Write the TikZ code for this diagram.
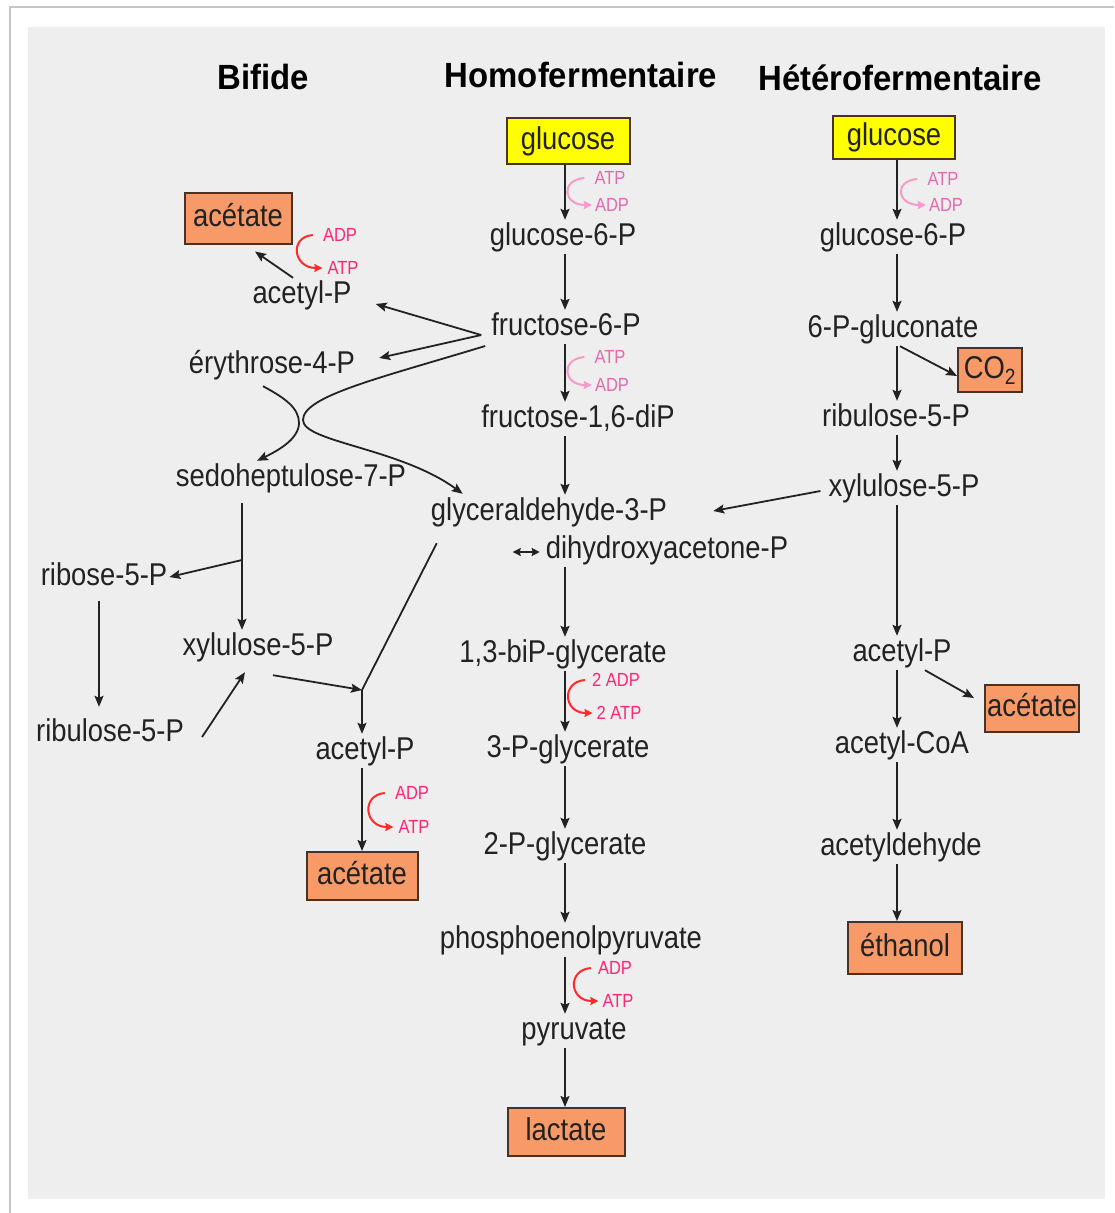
\documentclass[tikz,border=0pt]{standalone}
\usepackage{fontspec}
\setmainfont{Liberation Sans}
\newfontfamily\narrowsans{Liberation Sans}[FakeStretch=0.87]
\newfontfamily\headsans{Liberation Sans}[FakeStretch=0.94]
\usetikzlibrary{arrows.meta}
\definecolor{panel}{HTML}{EEEEEE}
\definecolor{boxorange}{HTML}{F89A68}
\definecolor{boxedge}{HTML}{4A3326}
\definecolor{glcyellow}{HTML}{FFFF00}
\definecolor{atplight}{HTML}{E36AAE}
\definecolor{curvelight}{HTML}{F59ACB}
\definecolor{atpred}{HTML}{FF2577}
\definecolor{curvered}{HTML}{FF2B2B}
\definecolor{ink}{HTML}{222222}
\begin{document}
\begin{tikzpicture}[
      x=1pt, y=-1pt,
      met/.style={font=\narrowsans\fontsize{31.5}{34}\selectfont, text=ink, inner sep=2pt,
        text height=23pt, text depth=7pt},
      prod/.style={met, draw=boxedge, line width=2pt, fill=boxorange, inner sep=0pt,
        minimum height=48pt},
      sub/.style={prod, fill=glcyellow},
      title/.style={font=\headsans\fontsize{35}{38}\selectfont\bfseries},
      nrg/.style={font=\narrowsans\fontsize{19}{20}\selectfont, inner sep=1pt},
      arr/.style={draw=ink, line width=1.8pt, -{Stealth[length=11pt,width=9pt,inset=2pt]}},
      dbl/.style={draw=ink, line width=2.2pt,
        {Stealth[length=8pt,width=8pt,inset=1pt]}-{Stealth[length=8pt,width=8pt,inset=1pt]}},
      cof/.style={line width=2pt, -{Stealth[length=8pt,width=8pt,inset=1pt]}}
    ]
    \useasboundingbox (0,0) rectangle (1114,1213);
    \fill[white] (0,0) rectangle (1114,1213);
    \draw[gray!45, line width=2.5pt] (10,1213) -- (10,7) -- (1114,7);
    \fill[panel] (28,27) rectangle (1105,1199);

    \node[title] (tbif) at (263,77) {Bifide};
    \node[title] (thom) at (581,75) {Homofermentaire};
    \node[title] (thet) at (900,78) {Hétérofermentaire};

    % homofermentaire
    \coordinate (hax) at (565,0);
    \node[sub, minimum width=123pt, minimum height=46pt] (glc) at (568,141) {glucose};
    \node[met] (g6p) at (563,237) {glucose-6-P};
    \node[met] (f6p) at (566,327) {fructose-6-P};
    \node[met] (fbp) at (578,419) {fructose-1,6-diP};
    \node[met] (gap) at (549,512) {glyceraldehyde-3-P};
    \node[met] (dhap) at (667,550) {dihydroxyacetone-P};
    \node[met] (bpg) at (563,654) {1,3-biP-glycerate};
    \node[met] (pg3) at (568,749) {3-P-glycerate};
    \node[met] (pg2) at (565,846) {2-P-glycerate};
    \node[met] (pep) at (571,940) {phosphoenolpyruvate};
    \node[met] (pyr) at (574,1031) {pyruvate};
    \node[prod, minimum width=117pt] (lac) at (566,1132) {lactate};

    \node[nrg, text=atplight] (atp1) at (610,178) {ATP};
    \node[nrg, text=atplight] (adp1) at (612,205) {ADP};
    \node[nrg, text=atplight] (atp2) at (610,357) {ATP};
    \node[nrg, text=atplight] (adp2) at (612,385) {ADP};
    \node[nrg, text=atpred] (adp3) at (616,680) {2 ADP};
    \node[nrg, text=atpred] (atp3) at (619,713) {2 ATP};
    \node[nrg, text=atpred] (adp4) at (615,968) {ADP};
    \node[nrg, text=atpred] (atp4) at (618,1001) {ATP};

    \draw[arr] (glc.south -| hax) -- (g6p.north -| hax);
    \draw[arr] (g6p.south -| hax) -- (f6p.north -| hax);
    \draw[arr] (f6p.south -| hax) -- (fbp.north -| hax);
    \draw[arr] (fbp.south -| hax) -- (gap.north -| hax);
    \draw[dbl] ([xshift=-31pt,yshift=-2pt]dhap.west) -- ([xshift=-4pt,yshift=-2pt]dhap.west);
    \draw[arr] (dhap.south -| hax) -- (bpg.north -| hax);
    \draw[arr] (bpg.south -| hax) -- (pg3.north -| hax);
    \draw[arr] (pg3.south -| hax) -- (pg2.north -| hax);
    \draw[arr] (pg2.south -| hax) -- (pep.north -| hax);
    \draw[arr] (pep.south -| hax) -- (pyr.north -| hax);
    \draw[arr] (pyr.south -| hax) -- (lac.north -| hax);

    \draw[cof, curvelight] ([xshift=-9pt]atp1.west) .. controls +(-24,2) and +(-29,0) .. ([xshift=-2pt]adp1.west);
    \draw[cof, curvelight] ([xshift=-9pt]atp2.west) .. controls +(-24,2) and +(-29,0) .. ([xshift=-2pt]adp2.west);
    \draw[cof, curvered] ([xshift=-6pt]adp3.west) .. controls +(-24,2) and +(-29,0) .. ([xshift=-3pt]atp3.west);
    \draw[cof, curvered] ([xshift=-6pt]adp4.west) .. controls +(-24,2) and +(-29,0) .. ([xshift=-3pt]atp4.west);

    % heterofermentaire
    \coordinate (hx) at (897,0);
    \node[sub, minimum width=122pt, minimum height=43pt] (hglc) at (894,137) {glucose};
    \node[met] (hg6p) at (893,237) {glucose-6-P};
    \node[met] (gcn) at (893,329) {6-P-gluconate};
    \node[prod, minimum width=64pt, minimum height=44pt] (co2) at (990,370) {CO\textsubscript{2}};
    \node[met] (hru5p) at (896,418) {ribulose-5-P};
    \node[met] (hxu5p) at (904,488) {xylulose-5-P};
    \node[met] (hacp) at (902,653) {acetyl-P};
    \node[prod, minimum width=94pt, minimum height=47pt] (hac) at (1032,708) {acétate};
    \node[met] (coa) at (902,745) {acetyl-CoA};
    \node[met] (ald) at (901,847) {acetyldehyde};
    \node[prod, minimum width=114pt, minimum height=52pt] (eth) at (905,948) {éthanol};

    \node[nrg, text=atplight] (hatp) at (943,179) {ATP};
    \node[nrg, text=atplight] (hadp) at (946,205) {ADP};

    \draw[arr] (hglc.south -| hx) -- (hg6p.north -| hx);
    \draw[arr] (hg6p.south -| hx) -- (gcn.north -| hx);
    \draw[arr] (gcn.south -| hx) -- (hru5p.north -| hx);
    \draw[arr] ([xshift=7pt]gcn.south) -- ([yshift=-6pt]co2.west);
    \draw[arr] (hru5p.south -| hx) -- (hxu5p.north -| hx);
    \draw[arr] ([xshift=-6pt,yshift=-3pt]hxu5p.west) -- ([xshift=44pt,yshift=1pt]gap.east);
    \draw[arr] (hxu5p.south -| hx) -- (hacp.north -| hx);
    \draw[arr] ([xshift=23pt]hacp.south) -- ([xshift=-10pt,yshift=10pt]hac.west);
    \draw[arr] (hacp.south -| hx) -- (coa.north -| hx);
    \draw[arr] (coa.south -| hx) -- (ald.north -| hx);
    \draw[arr] (ald.south -| hx) -- (eth.north -| hx);
    \draw[cof, curvelight] ([xshift=-9pt]hatp.west) .. controls +(-24,2) and +(-29,0) .. ([xshift=-2pt]hadp.west);

    % bifide
    \node[prod, minimum width=107pt, minimum height=51pt] (bac1) at (238,218) {acétate};
    \node[met] (bacp1) at (302,295) {acetyl-P};
    \node[met] (e4p) at (272,365) {érythrose-4-P};
    \node[met] (s7p) at (291,478) {sedoheptulose-7-P};
    \node[met] (r5p) at (104,577) {ribose-5-P};
    \node[met] (bxu5p) at (258,647) {xylulose-5-P};
    \node[met] (bru5p) at (110,733) {ribulose-5-P};
    \node[met] (bacp2) at (365,751) {acetyl-P};
    \node[prod, minimum width=111pt] (bac2) at (362,876) {acétate};
    \coordinate (sbr) at (242,560);
    \coordinate (join) at (362,690);

    \node[nrg, text=atpred] (badp1) at (340,235) {ADP};
    \node[nrg, text=atpred] (batp1) at (343,268) {ATP};
    \node[nrg, text=atpred] (badp2) at (412,793) {ADP};
    \node[nrg, text=atpred] (batp2) at (414,827) {ATP};

    \draw[arr] ([xshift=-8pt,yshift=-8pt]f6p.west) -- ([xshift=22pt,yshift=-9pt]bacp1.east);
    \draw[arr] ([xshift=-8pt,yshift=-8pt]f6p.west) -- ([xshift=22pt,yshift=7pt]e4p.east);
    \draw[arr] ([xshift=-4pt,yshift=-19pt]f6p.west) .. controls (380,378) and (303,396) .. (303,420)
      .. controls (303,442) and (400,448) .. ([xshift=34pt,yshift=1pt]gap.north west);
    \draw[arr] ([xshift=-9pt,yshift=-4pt]e4p.south) .. controls (285,398) and (299,408) .. (299,423)
      .. controls (299,440) and (275,452) .. ([xshift=-34pt]s7p.north);
    \draw[arr] ([xshift=-9pt]bacp1.north) -- ([xshift=17pt,yshift=-7pt]bac1.south);
    \draw[arr, shorten <=8pt] (s7p.south -| sbr) -- (sbr |- bxu5p.north);
    \draw[arr] (sbr) -- (r5p.east);
    \draw[arr] ([xshift=-5pt,yshift=-7pt]r5p.south) -- ([xshift=-11pt,yshift=9pt]bru5p.north);
    \draw[arr] ([xshift=16pt,yshift=-4pt]bru5p.east) -- ([xshift=-13pt,yshift=-8pt]bxu5p.south);
    \draw[arr] ([xshift=15pt,yshift=-11pt]bxu5p.south) -- (join);
    \draw[draw=ink, line width=1.8pt] ([xshift=8pt,yshift=-14pt]gap.south west) -- (join);
    \draw[arr] (join) -- (join |- bacp2.north);
    \draw[arr] (bac2.north |- bacp2.south) -- (bac2.north);
    \draw[cof, curvered] ([xshift=-9pt]badp1.west) .. controls +(-24,2) and +(-29,0) .. ([xshift=-4pt]batp1.west);
    \draw[cof, curvered] ([xshift=-9pt]badp2.west) .. controls +(-24,2) and +(-29,0) .. ([xshift=-4pt]batp2.west);
  \end{tikzpicture}
\end{document}
